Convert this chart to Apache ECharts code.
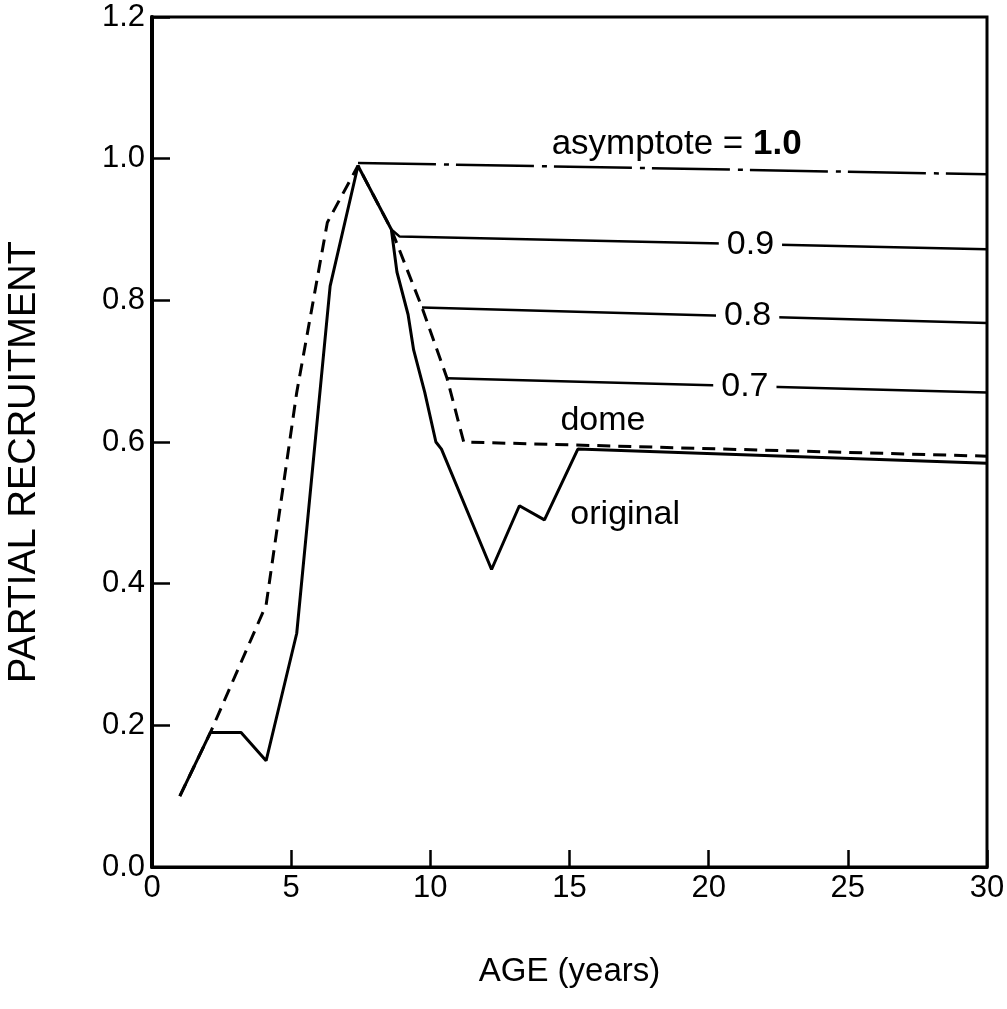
<!DOCTYPE html>
<html>
<head>
<meta charset="utf-8">
<script src="https://cdn.jsdelivr.net/npm/echarts@6/dist/echarts.min.js"></script>
<style>
  html, body { margin: 0; padding: 0; background: #fff; }
  #chart { width: 1007px; height: 1009px; }
</style>
</head>
<body>
<div id="chart"></div>
<script>
// ---- data ----
const xTicks = [0, 5, 10, 15, 20, 25, 30];
const yTicks = [0.0, 0.2, 0.4, 0.6, 0.8, 1.0, 1.2];

const originalAge = [1.0, 2.1, 3.2, 4.1, 5.2, 6.4, 7.4, 8.2, 8.6, 8.8, 9.2, 9.4, 9.8, 10.2, 10.4, 12.2, 13.2, 14.1, 15.3, 30];
const originalPR  = [0.10, 0.19, 0.19, 0.15, 0.33, 0.82, 0.99, 0.93, 0.90, 0.84, 0.78, 0.73, 0.67, 0.60, 0.59, 0.42, 0.51, 0.49, 0.59, 0.57];

const domeAge = [1.0, 2.1, 4.1, 5.2, 6.3, 7.4, 8.6, 9.7, 10.6, 11.2, 30];
const domePR  = [0.10, 0.19, 0.37, 0.67, 0.91, 0.99, 0.90, 0.79, 0.69, 0.60, 0.58];

const asym10Age = [7.4, 30];
const asym10PR  = [0.994, 0.978];
const asym09Age = [8.6, 8.9, 30];
const asym09PR  = [0.90, 0.89, 0.872];
const asym08Age = [9.7, 30];
const asym08PR  = [0.79, 0.768];
const asym07Age = [10.6, 30];
const asym07PR  = [0.69, 0.67];

const zip = (a, b) => a.map((v, i) => [v, b[i]]);

const FONT = '"Liberation Sans", Arial, Helvetica, sans-serif';
const labelStyle = {
  show: true, color: '#000', fontFamily: FONT, fontSize: 34,
  backgroundColor: '#fff', padding: [0, 8]
};

function lineSeries(name, data, lineStyle, markPoints) {
  const s = {
    name, type: 'line', data, symbol: 'none', silent: true,
    lineStyle: Object.assign({ color: '#000', width: 2.5 }, lineStyle),
    z: 3
  };
  if (markPoints) {
    s.markPoint = { symbol: 'rect', symbolSize: 0, silent: true, data: markPoints };
  }
  return s;
}

const chart = echarts.init(document.getElementById('chart'), null, { renderer: 'canvas' });
chart.setOption({
  backgroundColor: '#fff',
  animation: false,
  grid: { left: 152, right: 20, top: 17, bottom: 142, outerBoundsMode: 'none', containLabel: false,
          show: true, borderColor: '#000', borderWidth: 3, backgroundColor: 'transparent' },
  xAxis: {
    type: 'value', min: 0, max: 30, interval: 5,
    name: 'AGE (years)', nameLocation: 'middle', nameGap: 88,
    nameTextStyle: { fontFamily: FONT, fontSize: 33, color: '#000' },
    axisLine: { show: true, lineStyle: { color: '#000', width: 3 } },
    axisTick: { show: true, inside: true, length: 17, lineStyle: { color: '#000', width: 2.5 } },
    axisLabel: { fontFamily: FONT, fontSize: 31, color: '#000', margin: 6,
      formatter: v => xTicks.includes(v) ? String(v) : '' },
    splitLine: { show: false }
  },
  yAxis: {
    type: 'value', min: 0, max: 1.2, interval: 0.2,
    name: 'PARTIAL RECRUITMENT', nameLocation: 'middle', nameGap: 108, nameRotate: 90,
    nameTextStyle: { fontFamily: FONT, fontSize: 38, color: '#000', padding: [0, 40, 0, 0] },
    axisLine: { show: true, lineStyle: { color: '#000', width: 4 } },
    axisTick: { show: true, inside: true, length: 18, lineStyle: { color: '#000', width: 2.5 } },
    axisLabel: { fontFamily: FONT, fontSize: 31, color: '#000', margin: 7,
      formatter: v => yTicks.some(t => Math.abs(t - v) < 1e-9) ? v.toFixed(1) : '' },
    splitLine: { show: false }
  },
  series: [
    lineSeries('original', zip(originalAge, originalPR), { type: 'solid', width: 3 }, [
      { coord: [17.0, 0.497], label: Object.assign({}, labelStyle, { formatter: 'original', backgroundColor: 'transparent' }) }
    ]),
    lineSeries('dome', zip(domeAge, domePR), { type: [13, 8], width: 3 }, [
      { coord: [16.2, 0.63], label: Object.assign({}, labelStyle, { formatter: 'dome', backgroundColor: 'transparent' }) }
    ]),
    lineSeries('asymptote 1.0', zip(asym10Age, asym10PR), { type: [78, 8, 5, 7], width: 2.5 }, [
      { coord: [18.85, 1.02], label: Object.assign({}, labelStyle, {
          backgroundColor: 'transparent',
          formatter: '{a|asymptote = }{b|1.0}',
          rich: { a: { fontFamily: FONT, fontSize: 35, color: '#000' }, b: { fontFamily: FONT, fontSize: 35, fontWeight: 'bold', color: '#000' } }
        }) }
    ]),
    lineSeries('asymptote 0.9', zip(asym09Age, asym09PR), { width: 2.5 }, [
      { coord: [21.5, 0.878], label: Object.assign({}, labelStyle, { formatter: '0.9' }) }
    ]),
    lineSeries('asymptote 0.8', zip(asym08Age, asym08PR), { width: 2.5 }, [
      { coord: [21.4, 0.778], label: Object.assign({}, labelStyle, { formatter: '0.8' }) }
    ]),
    lineSeries('asymptote 0.7', zip(asym07Age, asym07PR), { width: 2.5 }, [
      { coord: [21.3, 0.678], label: Object.assign({}, labelStyle, { formatter: '0.7' }) }
    ])
  ]
});
</script>
</body>
</html>
